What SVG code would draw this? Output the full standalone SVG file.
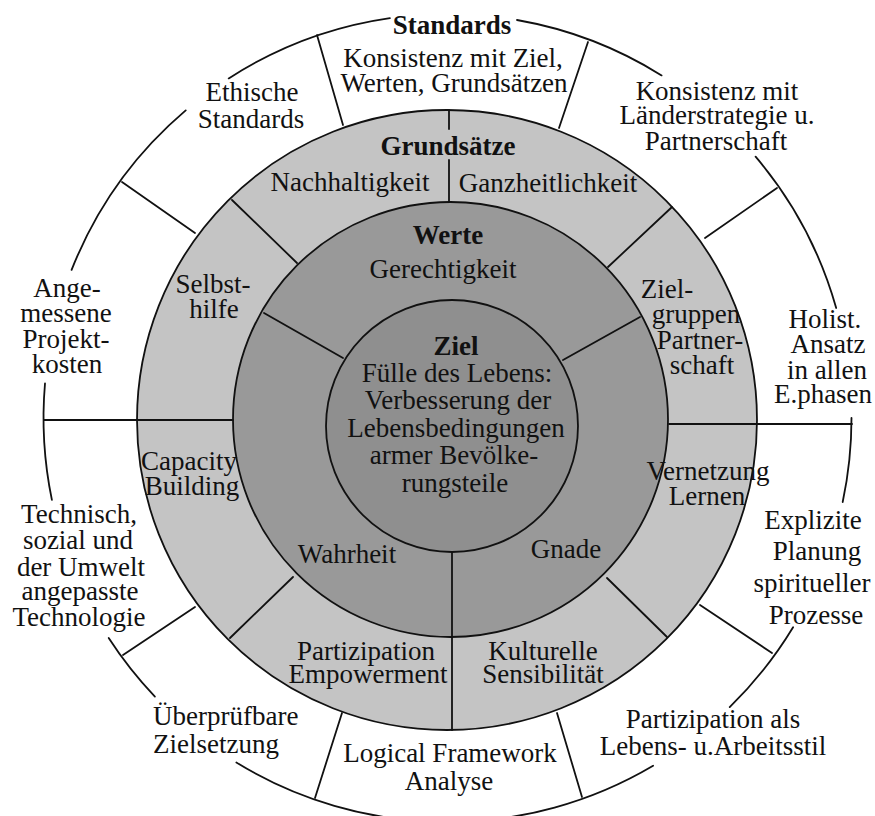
<svg xmlns="http://www.w3.org/2000/svg" width="875" height="816" viewBox="0 0 875 816">
<style>
  text { font-family: "Liberation Serif", "Times New Roman", serif; font-size: 27px; fill: #111; text-anchor: middle; }
  .b { font-weight: bold; }
  .ln { stroke: #111; stroke-width: 1.8; fill: none; stroke-linecap: round; }
  .ring { stroke: #111; stroke-width: 1.8; }
</style>
<rect width="875" height="816" fill="#ffffff"/>

<g id="outer-ring">
  <path class="ln" d="M389.9,18.1 A404,404 0 0 0 228.7,78.4"/>
  <path class="ln" d="M185.7,110.4 A404,404 0 0 0 71.6,269.9"/>
  <path class="ln" d="M45.0,383.5 A404,404 0 0 0 51.9,499.9"/>
  <path class="ln" d="M108.7,638 A404,404 0 0 0 154.9,696.6"/>
  <path class="ln" d="M236.4,762.5 A404,404 0 0 0 653.1,765.7"/>
  <path class="ln" d="M729.7,707.1 A404,404 0 0 0 793.1,627.3"/>
  <path class="ln" d="M842.7,502 A404,404 0 0 0 851.5,418"/>
  <path class="ln" d="M836.2,308 A404,404 0 0 0 755.6,156.7"/>
  <path class="ln" d="M661.6,75.4 A404,404 0 0 0 517,20"/>
</g>

<g id="rings">
  <circle id="ring-grundsaetze" class="ring" cx="447" cy="420" r="310" fill="#c4c4c4"/>
  <circle id="ring-werte" class="ring" cx="450.5" cy="419.5" r="217.5" fill="#999999"/>
  <circle id="ring-ziel" class="ring" cx="452" cy="426" r="126" fill="#8f8f8f"/>
</g>

<g id="connectors">
  <!-- outer ring dividers -->
  <line class="ln" x1="343" y1="125" x2="317" y2="35"/>
  <line class="ln" x1="559" y1="128" x2="588" y2="42"/>
  <line class="ln" x1="705" y1="238" x2="777" y2="188"/>
  <line class="ln" x1="669" y1="424" x2="852" y2="424"/>
  <line class="ln" x1="700" y1="605" x2="772" y2="653"/>
  <line class="ln" x1="557" y1="713" x2="582" y2="797"/>
  <line class="ln" x1="342" y1="713" x2="315" y2="798"/>
  <line class="ln" x1="195" y1="607" x2="123" y2="655"/>
  <line class="ln" x1="44" y1="420" x2="233" y2="420"/>
  <line class="ln" x1="195" y1="233" x2="122" y2="182"/>
  <!-- Grundsaetze ring dividers -->
  <line class="ln" x1="449" y1="110" x2="449" y2="129"/>
  <line class="ln" x1="449" y1="160" x2="449" y2="202"/>
  <line class="ln" x1="608" y1="267" x2="672" y2="207"/>
  <line class="ln" x1="607" y1="578" x2="667" y2="637"/>
  <line class="ln" x1="452" y1="552" x2="452" y2="730"/>
  <line class="ln" x1="293" y1="577" x2="230" y2="638"/>
  <line class="ln" x1="232" y1="200" x2="297" y2="263"/>
  <!-- Werte ring dividers -->
  <line class="ln" x1="264" y1="313" x2="343" y2="358"/>
  <line class="ln" x1="640" y1="317" x2="563" y2="360"/>
</g>

<g id="standards">
  <text class="b" x="452" y="34">Standards</text>
  <text x="453" y="67">Konsistenz mit Ziel,</text>
  <text x="454" y="92">Werten, Grundsätzen</text>
</g>
<g id="ethische-standards">
  <text x="252" y="101">Ethische</text>
  <text x="251" y="128">Standards</text>
</g>
<g id="konsistenz-laenderstrategie">
  <text x="717" y="100">Konsistenz mit</text>
  <text x="717" y="124">Länderstrategie u.</text>
  <text x="716" y="150">Partnerschaft</text>
</g>
<g id="holist-ansatz">
  <text x="825" y="328">Holist.</text>
  <text x="828" y="353">Ansatz</text>
  <text x="827" y="379">in allen</text>
  <text x="823" y="403">E.phasen</text>
</g>
<g id="explizite-planung">
  <text x="813" y="529">Explizite</text>
  <text x="817" y="560">Planung</text>
  <text x="812" y="592">spiritueller</text>
  <text x="816" y="624">Prozesse</text>
</g>
<g id="partizipation-lebensstil">
  <text x="713" y="728">Partizipation als</text>
  <text x="713" y="755">Lebens- u.Arbeitsstil</text>
</g>
<g id="logical-framework">
  <text x="450" y="762">Logical Framework</text>
  <text x="449" y="790">Analyse</text>
</g>
<g id="ueberpruefbare-zielsetzung">
  <text x="153" y="725" style="text-anchor:start">Überprüfbare</text>
  <text x="153" y="753" style="text-anchor:start">Zielsetzung</text>
</g>
<g id="angepasste-technologie">
  <text x="79" y="523">Technisch,</text>
  <text x="78" y="549">sozial und</text>
  <text x="81" y="576">der Umwelt</text>
  <text x="80" y="600">angepasste</text>
  <text x="79" y="626">Technologie</text>
</g>
<g id="projektkosten">
  <text x="67" y="297">Ange-</text>
  <text x="66" y="322">messene</text>
  <text x="66" y="348">Projekt-</text>
  <text x="67" y="373">kosten</text>
</g>

<g id="grundsaetze">
  <text class="b" x="448" y="155">Grundsätze</text>
</g>
<g id="nachhaltigkeit"><text x="350" y="191">Nachhaltigkeit</text></g>
<g id="ganzheitlichkeit"><text x="548" y="192">Ganzheitlichkeit</text></g>
<g id="zielgruppen-partnerschaft">
  <text x="667" y="298">Ziel-</text>
  <text x="696" y="323">gruppen</text>
  <text x="700" y="349">Partner-</text>
  <text x="702" y="374">schaft</text>
</g>
<g id="vernetzung-lernen">
  <text x="708" y="480">Vernetzung</text>
  <text x="707" y="505">Lernen</text>
</g>
<g id="kulturelle-sensibilitaet">
  <text x="543" y="660">Kulturelle</text>
  <text x="543" y="683">Sensibilität</text>
</g>
<g id="partizipation-empowerment">
  <text x="366" y="660">Partizipation</text>
  <text x="368" y="683">Empowerment</text>
</g>
<g id="capacity-building">
  <text x="189" y="470">Capacity</text>
  <text x="192" y="495">Building</text>
</g>
<g id="selbsthilfe">
  <text x="213" y="293">Selbst-</text>
  <text x="214" y="318">hilfe</text>
</g>

<g id="werte">
  <text class="b" x="448" y="244">Werte</text>
</g>
<g id="gerechtigkeit"><text x="443" y="278">Gerechtigkeit</text></g>
<g id="wahrheit"><text x="347" y="563">Wahrheit</text></g>
<g id="gnade"><text x="566" y="558">Gnade</text></g>

<g id="ziel">
  <text class="b" x="456" y="355">Ziel</text>
  <text x="457" y="382">Fülle des Lebens:</text>
  <text x="458" y="409">Verbesserung der</text>
  <text x="456" y="437">Lebensbedingungen</text>
  <text x="454" y="464">armer Bevölke-</text>
  <text x="455" y="492">rungsteile</text>
</g>
</svg>
